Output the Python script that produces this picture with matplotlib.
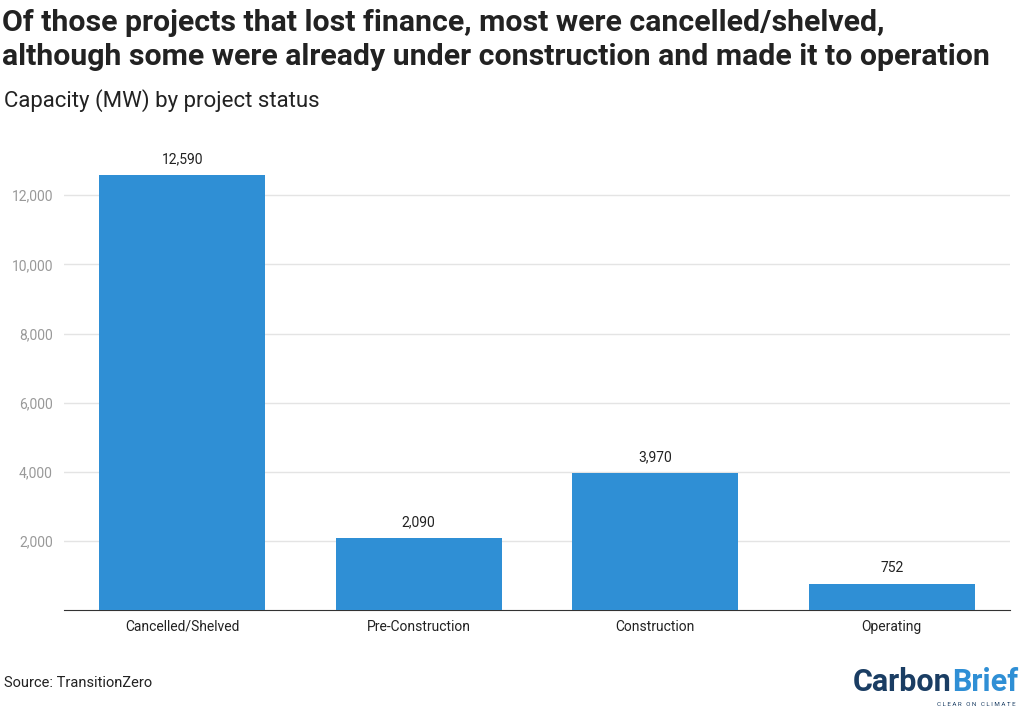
import matplotlib.pyplot as plt
from matplotlib.ticker import FuncFormatter

statuses = ["Cancelled/Shelved", "Pre-Construction", "Construction", "Operating"]
capacity = [12590, 2090, 3970, 752]
yticks = [2000, 4000, 6000, 8000, 10000, 12000]

fig = plt.figure(figsize=(10.24, 7.1), dpi=100)
ax = fig.add_axes([64/1024, 100/710, 946/1024, 470/710])

bars = ax.bar(range(len(statuses)), capacity, width=0.7, color="#2f8fd5", zorder=3)
for b, v in zip(bars, capacity):
    ax.text(b.get_x() + b.get_width()/2, v + 250, f"{v:,}", ha="center", va="bottom",
            fontsize=10, color="#222222", family="Roboto")

ax.set_xlim(-0.5, 3.5)
ax.set_ylim(0, 13600)
ax.set_yticks(yticks)
ax.yaxis.set_major_formatter(FuncFormatter(lambda v, p: f"{int(v):,}"))
ax.set_xticks(range(len(statuses)))
ax.set_xticklabels(statuses, family="Roboto", fontsize=10, color="#222222")
for lab in ax.get_yticklabels():
    lab.set_family("Roboto")
    lab.set_fontsize(10)
    lab.set_color("#999999")
ax.tick_params(axis="y", length=0, pad=8)
ax.tick_params(axis="x", length=0, pad=7)
ax.grid(axis="y", color="#e4e4e4", linewidth=1, zorder=0)
for s in ["top", "right", "left"]:
    ax.spines[s].set_visible(False)
ax.spines["bottom"].set_color("#333333")

title_font = dict(fontsize=21.8, fontweight="bold", family="Roboto", color="#222222", va="center")
fig.text(0.002, 1 - 23/710, "Of those projects that lost finance, most were cancelled/shelved,", **title_font)
fig.text(0.002, 1 - 57/710, "although some were already under construction and made it to operation", **title_font)
fig.text(0.004, 1 - 101/710, "Capacity (MW) by project status", fontsize=16,
         family="Roboto", color="#222222", va="center")
fig.text(0.004, 1 - 683/710, "Source: TransitionZero", fontsize=10.5,
         family="Roboto", color="#222222", va="center")

fig.text(952/1024, 1 - 682/710, "Carbon", fontsize=22, fontweight="bold",
         family="Roboto", color="#1a3d63", va="center", ha="right")
fig.text(952/1024, 1 - 682/710, "Brief", fontsize=22, fontweight="bold",
         family="Roboto", color="#2f8fd5", va="center", ha="left")
fig.text(1016/1024, 1 - 704/710, "C L E A R   O N   C L I M A T E", fontsize=4.5,
         family="Roboto", color="#1a3d63", ha="right", va="center")

fig.savefig("out.png", dpi=100)
